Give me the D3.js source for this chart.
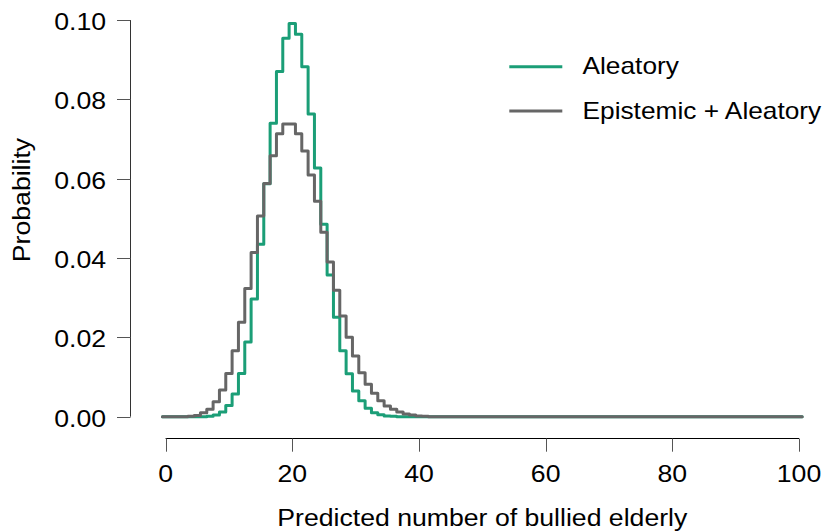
<!DOCTYPE html>
<html>
<head>
<meta charset="utf-8">
<script src="https://cdn.jsdelivr.net/npm/d3@7"></script>
<style>
  body { margin: 0; background: #fff; }
  text { font-family: "Liberation Sans", Arial, sans-serif; fill: #000; }
</style>
</head>
<body>
<svg width="824" height="531"></svg>
<script>
// predicted counts 0..100
const counts = d3.range(0, 101);

// probabilities, index = count
const aleatory = [
  0, 0, 0, 0, 0, 0, 0, 0.0001, 0.0004, 0.0012,
  0.0028, 0.0057, 0.0109, 0.0188, 0.0297, 0.0435, 0.0587, 0.0740, 0.0870, 0.0954,
  0.0991, 0.0964, 0.0882, 0.0763, 0.0627, 0.0485, 0.0357, 0.0251, 0.0166, 0.0108,
  0.0065, 0.0040, 0.0021, 0.0010, 0.0005, 0.0002, 0.0001, 0, 0, 0,
  0, 0, 0, 0, 0, 0, 0, 0, 0, 0,
  0, 0, 0, 0, 0, 0, 0, 0, 0, 0,
  0, 0, 0, 0, 0, 0, 0, 0, 0, 0,
  0, 0, 0, 0, 0, 0, 0, 0, 0, 0,
  0, 0, 0, 0, 0, 0, 0, 0, 0, 0,
  0, 0, 0, 0, 0, 0, 0, 0, 0, 0,
  0
];

const epistemic = [
  0, 0, 0, 0, 0.0001, 0.0003, 0.0010, 0.0019, 0.0038, 0.0067,
  0.0109, 0.0166, 0.0238, 0.0323, 0.0414, 0.0506, 0.0588, 0.0658, 0.0713, 0.0738,
  0.0738, 0.0713, 0.0670, 0.0609, 0.0543, 0.0465, 0.0390, 0.0319, 0.0254, 0.0200,
  0.0153, 0.0111, 0.0082, 0.0059, 0.0040, 0.0027, 0.0019, 0.0012, 0.0007, 0.0004,
  0.0002, 0.0001, 0, 0, 0, 0, 0, 0, 0, 0,
  0, 0, 0, 0, 0, 0, 0, 0, 0, 0,
  0, 0, 0, 0, 0, 0, 0, 0, 0, 0,
  0, 0, 0, 0, 0, 0, 0, 0, 0, 0,
  0, 0, 0, 0, 0, 0, 0, 0, 0, 0,
  0, 0, 0, 0, 0, 0, 0, 0, 0, 0,
  0
];

const seriesNames = ["Aleatory", "Epistemic + Aleatory"];
const seriesColors = ["#1b9e77", "#666666"];
const xTicks = [0, 20, 40, 60, 80, 100];
const yTicks = [0, 0.02, 0.04, 0.06, 0.08, 0.10];

const svg = d3.select("svg");

const x = d3.scaleLinear().domain([0, 100]).range([165.6, 799]);
const y = d3.scaleLinear().domain([0, 0.10]).range([416.7, 20]);

// glyphs in the original are a bit wider than Arial, so stretch along the text
function label(g, tx, ty, str, anchor, rot, stretch = 1.11) {
  return g.append("text")
      .attr("transform", `translate(${tx},${ty})${rot ? " rotate(" + rot + ")" : ""} scale(${stretch},1)`)
      .attr("text-anchor", anchor)
      .style("font-size", "24px")
      .text(str);
}

// y axis
const yAxis = svg.append("g");
yAxis.append("line")
    .attr("x1", 130.5).attr("x2", 130.5)
    .attr("y1", y(0.10)).attr("y2", y(0))
    .attr("stroke", "#333").attr("stroke-width", 1);
yTicks.forEach(t => {
  yAxis.append("line")
      .attr("x1", 117).attr("x2", 130.5)
      .attr("y1", Math.round(y(t)) + 0.5).attr("y2", Math.round(y(t)) + 0.5)
      .attr("stroke", "#555").attr("stroke-width", 1);
  label(yAxis, 106, y(t) + 10, d3.format(".2f")(t), "end");
});
label(svg, 30, 200, "Probability", "middle", -90);

// x axis
const xAxis = svg.append("g");
xAxis.append("line")
    .attr("x1", x(0)).attr("x2", x(100))
    .attr("y1", 438.5).attr("y2", 438.5)
    .attr("stroke", "#000").attr("stroke-width", 1);
xTicks.forEach(t => {
  xAxis.append("line")
      .attr("x1", Math.round(x(t)) + 0.5).attr("x2", Math.round(x(t)) + 0.5)
      .attr("y1", 438.5).attr("y2", 451.7)
      .attr("stroke", "#555").attr("stroke-width", 1);
  label(xAxis, x(t), 481.5, t, "middle");
});
label(svg, (x(0) + x(100)) / 2, 525.5, "Predicted number of bullied elderly", "middle");

// step lines, each count covers k-0.5 .. k+0.5
const line = d3.line()
    .x(d => x(d[0]))
    .y(d => y(d[1]))
    .curve(d3.curveStepAfter);

[aleatory, epistemic].forEach((vals, i) => {
  const pts = counts.map(k => [k - 0.5, vals[k]]);
  pts.push([100.5, vals[100]]);
  svg.append("path")
      .datum(pts)
      .attr("d", line)
      .attr("fill", "none")
      .attr("stroke", seriesColors[i])
      .attr("stroke-width", 3)
      .attr("stroke-linejoin", "round")
      .attr("stroke-linecap", "round");
});

// legend
const legend = svg.append("g");
seriesNames.forEach((name, i) => {
  const ly = 66.7 + i * 44.3;
  legend.append("line")
      .attr("x1", 509.3).attr("x2", 562.3)
      .attr("y1", ly).attr("y2", ly)
      .attr("stroke", seriesColors[i])
      .attr("stroke-width", 3);
  label(legend, 582.5, ly + 7.5, name, "start", null, 1.095);
});
</script>
</body>
</html>
